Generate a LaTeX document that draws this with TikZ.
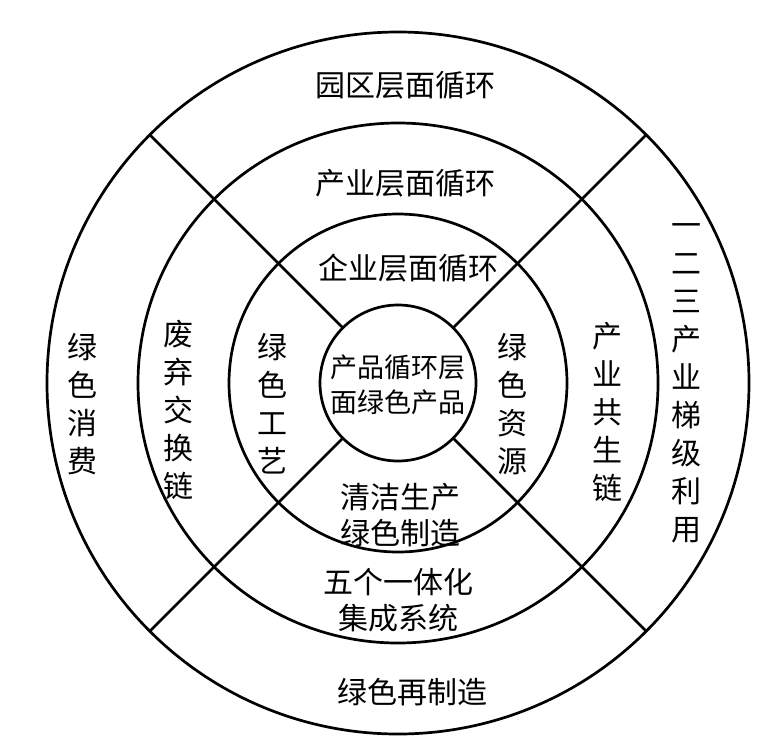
\documentclass[tikz,border=0pt]{standalone}
\usepackage{fontspec}
\setmainfont{Noto Sans CJK SC}
\begin{document}
\begin{tikzpicture}[x=1pt,y=-1pt,
  ring/.style={circle,draw,line width=2.7pt,inner sep=0pt,outer sep=0pt},
  sep/.style={line width=2.7pt},
  lbl/.style={font=\fontsize{30}{36}\selectfont,align=center,inner sep=0pt},
  clbl/.style={font=\fontsize{27}{35}\selectfont,align=center,inner sep=0pt},
  vlbl/.style={font=\fontsize{30}{38}\selectfont,align=center,inner sep=0pt}]
\useasboundingbox (0,0) rectangle (778,750);
\node[ring,minimum size=702pt] (r4) at (398,383) {};
\node[ring,minimum size=520pt] (r3) at (398,383) {};
\node[ring,minimum size=338pt] (r2) at (398,383) {};
\node[ring,minimum size=156pt] (r1) at (398,383) {};
\draw[sep] (r1.north west) -- (r4.north west);
\draw[sep] (r1.north east) -- (r4.north east);
\draw[sep] (r1.south west) -- (r4.south west);
\draw[sep] (r1.south east) -- (r4.south east);
% horizontal labels
\node[lbl] (t1) at (405,85) {园区层面循环};
\node[lbl] (t2) at (405,183) {产业层面循环};
\node[lbl] (t3) at (408,268) {企业层面循环};
\node[clbl] (t0) at (398,385) {产品循环层\\面绿色产品};
\node[lbl] (b1) at (400,515) {清洁生产\\绿色制造};
\node[lbl] (b2) at (398,600) {五个一体化\\集成系统};
\node[lbl] (b3) at (412,692) {绿色再制造};
% vertical labels
\node[vlbl] (l3) at (82,404) {绿\\色\\消\\费};
\node[vlbl] (l2) at (178,410) {废\\弃\\交\\换\\链};
\node[vlbl] (l1) at (272,404) {绿\\色\\工\\艺};
\node[vlbl] (rr1) at (512,404) {绿\\色\\资\\源};
\node[vlbl] (rr2) at (607,412) {产\\业\\共\\生\\链};
\node[vlbl] (rr3) at (686,383) {一\\二\\三\\产\\业\\梯\\级\\利\\用};
\end{tikzpicture}
\end{document}
